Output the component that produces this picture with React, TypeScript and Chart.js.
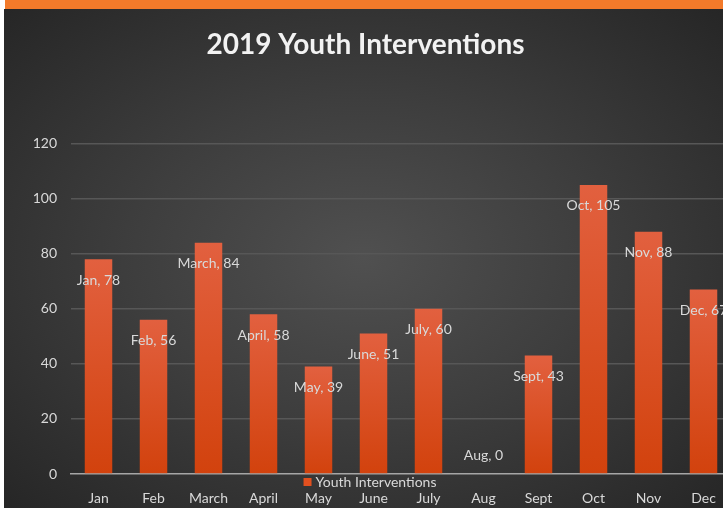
import React, { useEffect, useRef } from "react";
import { Chart, registerables } from "chart.js";

Chart.register(...registerables);

const months = ["Jan", "Feb", "March", "April", "May", "June", "July", "Aug", "Sept", "Oct", "Nov", "Dec"];
const values = [78, 56, 84, 58, 39, 51, 60, 0, 43, 105, 88, 67];
const yMin = 0;
const yMax = 120;
const yStep = 20;
const seriesName = "Youth Interventions";
const titleText = "2019 Youth Interventions";

const FONT = "Lato";
const TEXT_COLOR = "#d9d9d9";

const dataLabelPlugin = {
  id: "dataLabels",
  afterDatasetsDraw(chart: any) {
    const ctx = chart.ctx;
    const meta = chart.getDatasetMeta(0);
    ctx.save();
    ctx.font = `14px ${FONT}`;
    ctx.fillStyle = TEXT_COLOR;
    ctx.textAlign = "center";
    ctx.textBaseline = "middle";
    meta.data.forEach((el: any, i: number) => {
      const v = values[i];
      const y = v > 0 ? el.y + 21 : el.base - 19;
      ctx.fillText(`${months[i]}, ${v}`, el.x, y);
    });
    ctx.restore();
  },
};

const legendPlugin = {
  id: "customLegend",
  afterDraw(chart: any) {
    const ctx = chart.ctx;
    const area = chart.chartArea;
    ctx.save();
    ctx.font = `14px ${FONT}`;
    const tw = ctx.measureText(seriesName).width;
    const box = 8;
    const gap = 4;
    const total = box + gap + tw;
    const cx = chart.width / 2;
    const x0 = cx - total / 2;
    const y = area.bottom + 8;
    ctx.fillStyle = "#e2501f";
    ctx.fillRect(x0, y - box / 2, box, box);
    ctx.fillStyle = TEXT_COLOR;
    ctx.textAlign = "left";
    ctx.textBaseline = "middle";
    ctx.fillText(seriesName, x0 + box + gap, y);
    ctx.restore();
  },
};

export default function App() {
  const ref = useRef<HTMLCanvasElement | null>(null);

  useEffect(() => {
    if (!ref.current) return;
    const chart = new Chart(ref.current, {
      type: "bar",
      data: {
        labels: months,
        datasets: [
          {
            label: seriesName,
            data: values,
            backgroundColor: (c: any) => {
              const ch = c.chart;
              const area = ch.chartArea;
              if (!area || c.raw === undefined) return "#d9481a";
              const yScale = ch.scales.y;
              const top = yScale.getPixelForValue(c.raw);
              const bottom = yScale.getPixelForValue(0);
              if (!(bottom > top)) return "#d9481a";
              const g = ch.ctx.createLinearGradient(0, top, 0, bottom);
              g.addColorStop(0, "#e2603f");
              g.addColorStop(1, "#d2420d");
              return g;
            },
            borderWidth: 0,
            barPercentage: 1,
            categoryPercentage: 0.5,
          },
        ],
      },
      options: {
        responsive: false,
        animation: false,
        layout: { padding: { left: 0, right: 9, top: 0, bottom: 1 } },
        plugins: {
          legend: { display: false },
          tooltip: { enabled: false },
          title: {
            display: true,
            text: titleText,
            color: "#f2f2f2",
            font: { family: FONT, size: 28, weight: "bold" },
            padding: { top: 28, bottom: 82 },
          },
        },
        scales: {
          x: {
            grid: { display: false, drawTicks: false },
            border: { display: true, color: "#a6a6a6", width: 1.5 },
            ticks: {
              color: TEXT_COLOR,
              font: { family: FONT, size: 14 },
              padding: 16,
              maxRotation: 0,
              autoSkip: false,
            },
            afterFit: (scale: any) => {
              scale.height = 33;
            },
          },
          y: {
            min: yMin,
            max: yMax,
            grid: {
              drawTicks: false,
              color: (c: any) => (c.tick && c.tick.value === 0 ? "rgba(0,0,0,0)" : "#575757"),
              lineWidth: 1.5,
            },
            border: { display: false },
            ticks: {
              stepSize: yStep,
              color: TEXT_COLOR,
              font: { family: FONT, size: 14 },
              padding: 14,
            },
            afterFit: (scale: any) => {
              scale.width = 71;
            },
          },
        },
      },
      plugins: [dataLabelPlugin, legendPlugin],
    });
    return () => chart.destroy();
  }, []);

  return (
    <div
      style={{
        position: "fixed",
        left: 0,
        top: 0,
        width: 723,
        height: 508,
        overflow: "hidden",
        background: "#ffffff",
      }}
    >
      <div style={{ position: "absolute", left: 5, top: 0, right: 0, height: 9, background: "#f37a2a" }} />
      <div
        style={{
          position: "absolute",
          left: 4,
          top: 9,
          right: 0,
          bottom: 0,
          background: "radial-gradient(ellipse at 50% 50%, #505050 0%, #3e3e3e 45%, #262626 100%)",
        }}
      />
      <canvas
        ref={ref}
        width={740}
        height={508}
        style={{ position: "absolute", left: 0, top: 0, width: 740, height: 508 }}
      />
    </div>
  );
}
